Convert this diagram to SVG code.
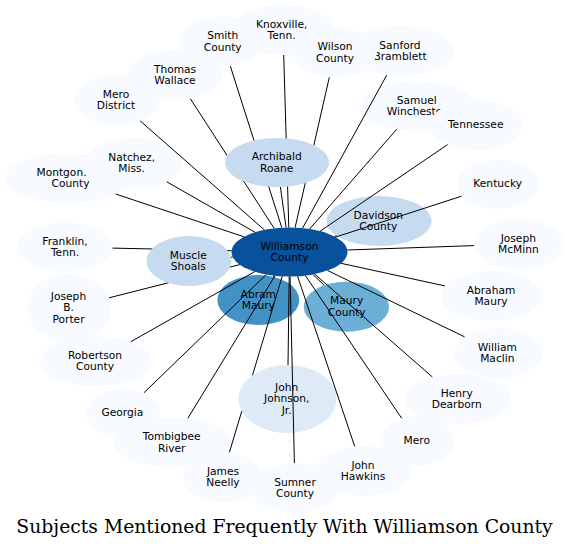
<svg xmlns="http://www.w3.org/2000/svg" width="569" height="549" viewBox="0 0 569 549">
<style>
.n text{font-family:"DejaVu Sans","Liberation Sans",sans-serif;font-size:10.67px;text-anchor:middle;fill:#000}
.b1{fill:#f7fbff}.b2{fill:#deebf7}.b3{fill:#c6dbef}.b5{fill:#6baed6}.b6{fill:#4292c6}.b8{fill:#08519c}
#edges line,#edges path{stroke:#000;stroke-width:1;fill:none}
.title{font-family:"DejaVu Serif","Liberation Serif",serif;font-size:18.8px;text-anchor:middle;fill:#000}
</style>
<rect width="569" height="549" fill="#fff"/>
<g id="knoxville" class="n"><ellipse class="b1" cx="283" cy="30" rx="50" ry="25"/><text x="281.7" y="27.5">Knoxville,</text><text x="281.7" y="39">Tenn.</text></g>
<g id="smith" class="n"><ellipse class="b1" cx="222.5" cy="41.5" rx="42.5" ry="25"/><text x="222.7" y="39">Smith</text><text x="222.7" y="50.5">County</text></g>
<g id="sanford" class="n"><ellipse class="b1" cx="400" cy="51" rx="54" ry="25"/><text x="400" y="48.5">Sanford</text><text x="400" y="60">Bramblett</text></g>
<g id="wilson" class="n"><ellipse class="b1" cx="335" cy="52.5" rx="42" ry="25"/><text x="335" y="50">Wilson</text><text x="335" y="61.5">County</text></g>
<g id="thomaswallace" class="n"><ellipse class="b1" cx="175" cy="75" rx="47" ry="25"/><text x="175" y="72.5">Thomas</text><text x="175" y="84">Wallace</text></g>
<g id="merodistrict" class="n"><ellipse class="b1" cx="116.5" cy="100" rx="42.5" ry="25"/><text x="116" y="97.5">Mero</text><text x="116" y="109">District</text></g>
<g id="winchester" class="n"><ellipse class="b1" cx="417" cy="106" rx="58" ry="25"/><text x="416.7" y="103.5">Samuel</text><text x="416.7" y="115">Winchester</text></g>
<g id="tennessee" class="n"><ellipse class="b1" cx="476.5" cy="125" rx="46.5" ry="25"/><text x="475.7" y="128">Tennessee</text></g>
<g id="montgomery" class="n"><ellipse class="b1" cx="68" cy="178" rx="62" ry="25"/><text x="61.5" y="175.5">Montgon.</text><text x="70.5" y="187">County</text></g>
<g id="natchez" class="n"><ellipse class="b1" cx="134" cy="163" rx="49" ry="25"/><text x="131.7" y="160.5">Natchez,</text><text x="131.7" y="172">Miss.</text></g>
<g id="kentucky" class="n"><ellipse class="b1" cx="497.5" cy="184.5" rx="41" ry="24.5"/><text x="497.7" y="187">Kentucky</text></g>
<g id="franklin" class="n"><ellipse class="b1" cx="65" cy="247" rx="47.5" ry="24.5"/><text x="65" y="244.5">Franklin,</text><text x="65" y="256">Tenn.</text></g>
<g id="mcminn" class="n"><ellipse class="b1" cx="519" cy="244" rx="45" ry="25"/><text x="518.3" y="241.5">Joseph</text><text x="518.3" y="253">McMinn</text></g>
<g id="abrahammaury" class="n"><ellipse class="b1" cx="491" cy="296" rx="50.5" ry="25"/><text x="491" y="293.5">Abraham</text><text x="491" y="305">Maury</text></g>
<g id="porter" class="n"><ellipse class="b1" cx="69" cy="308" rx="42" ry="34"/><text x="68.5" y="299.5">Joseph</text><text x="68.5" y="311">B.</text><text x="68.5" y="322.5">Porter</text></g>
<g id="maclin" class="n"><ellipse class="b1" cx="498" cy="353" rx="44" ry="25"/><text x="497.3" y="350.5">William</text><text x="497.3" y="362">Maclin</text></g>
<g id="robertson" class="n"><ellipse class="b1" cx="96" cy="361.4" rx="56.5" ry="25"/><text x="95" y="358.9">Robertson</text><text x="95" y="370.4">County</text></g>
<g id="dearborn" class="n"><ellipse class="b1" cx="457.5" cy="399" rx="52.5" ry="25"/><text x="456.7" y="396.5">Henry</text><text x="456.7" y="408">Dearborn</text></g>
<g id="georgia" class="n"><ellipse class="b1" cx="123" cy="413" rx="37" ry="24.5"/><text x="122.3" y="416">Georgia</text></g>
<g id="mero" class="n"><ellipse class="b1" cx="417" cy="441" rx="37" ry="25"/><text x="416.7" y="444">Mero</text></g>
<g id="tombigbee" class="n"><ellipse class="b1" cx="173" cy="442.5" rx="59" ry="25"/><text x="171.7" y="440">Tombigbee</text><text x="171.7" y="451.5">River</text></g>
<g id="neelly" class="n"><ellipse class="b1" cx="222" cy="477" rx="39" ry="25"/><text x="223" y="474.5">James</text><text x="223" y="486">Neelly</text></g>
<g id="hawkins" class="n"><ellipse class="b1" cx="363" cy="471" rx="48" ry="25"/><text x="363" y="468.5">John</text><text x="363" y="480">Hawkins</text></g>
<g id="sumner" class="n"><ellipse class="b1" cx="295" cy="488" rx="45" ry="25"/><text x="295" y="485.5">Sumner</text><text x="295" y="497">County</text></g>
<g id="davidson" class="n"><ellipse class="b3" cx="379" cy="221" rx="52.5" ry="25"/><text x="378.3" y="218.5">Davidson</text><text x="378.3" y="230">County</text></g>
<g id="abram" class="n"><ellipse class="b6" cx="258.3" cy="300" rx="41" ry="25"/><text x="258.3" y="297.5">Abram</text><text x="258.3" y="309">Maury</text></g>
<g id="maurycounty" class="n"><ellipse class="b5" cx="346.4" cy="306.7" rx="42.7" ry="25"/><text x="346.7" y="304.2">Maury</text><text x="346.7" y="315.7">County</text></g>
<g id="jj" class="n"><ellipse class="b2" cx="287.5" cy="399" rx="49" ry="34"/><text x="286.7" y="390.5">John</text><text x="286.7" y="402">Johnson,</text><text x="286.7" y="413.5">Jr.</text></g>
<g id="williamson" class="n"><ellipse class="b8" cx="289.5" cy="252" rx="58" ry="24.5"/><text x="289.5" y="249.5">Williamson</text><text x="289.5" y="261">County</text></g>
<g id="edges">
<line x1="288.8" y1="227.5" x2="283.7" y2="55"/>
<line x1="281.8" y1="227.7" x2="230.3" y2="66.1"/>
<line x1="295.1" y1="227.6" x2="329.3" y2="77.3"/>
<line x1="302.6" y1="228.1" x2="386.7" y2="75.2"/>
<line x1="309.6" y1="229" x2="396.6" y2="129.4"/>
<line x1="320.1" y1="231.2" x2="447.6" y2="144.6"/>
<line x1="335.5" y1="237.1" x2="461.5" y2="196.2"/>
<line x1="334.4" y1="236.5" x2="336.5" y2="235.7"/>
<line x1="347.3" y1="250" x2="474.1" y2="245.6"/>
<line x1="341" y1="263.3" x2="444.8" y2="285.9"/>
<line x1="327.6" y1="270.5" x2="464.5" y2="336.8"/>
<line x1="314.7" y1="274.1" x2="432.4" y2="377"/>
<line x1="305.4" y1="275.6" x2="401.7" y2="418.3"/>
<line x1="297.6" y1="276.3" x2="354.7" y2="446.4"/>
<line x1="290.1" y1="276.5" x2="294.4" y2="463"/>
<line x1="289.2" y1="276.5" x2="288" y2="365"/>
<path d="M282.2,276.3 L252.5,375.2 M241.8,411.1 L229.4,452.4"/>
<line x1="275" y1="275.7" x2="187.8" y2="418.3"/>
<line x1="266.3" y1="274.5" x2="143.9" y2="392.8"/>
<line x1="254.8" y1="271.6" x2="130.8" y2="341.7"/>
<line x1="239.8" y1="264.6" x2="109.1" y2="297.8"/>
<line x1="231.6" y1="250.7" x2="112.5" y2="248.1"/>
<line x1="232.8" y1="257.1" x2="231" y2="257.2"/>
<line x1="244" y1="236.8" x2="115.7" y2="194"/>
<line x1="255.1" y1="232.3" x2="166.6" y2="181.7"/>
<line x1="264.4" y1="229.9" x2="140.1" y2="120.8"/>
<line x1="274.2" y1="228.4" x2="190.3" y2="98.6"/>
<line x1="286.1" y1="227.5" x2="280.4" y2="187"/>
<line x1="274.1" y1="275.6" x2="273.4" y2="276.8"/>
<line x1="312.8" y1="274.4" x2="324.2" y2="285.3"/>
</g>
<g id="archibald" class="n"><ellipse class="b3" cx="277" cy="162.5" rx="52" ry="24.5"/><text x="276.7" y="160">Archibald</text><text x="276.7" y="171.5">Roane</text></g>
<g id="muscle" class="n"><ellipse class="b3" cx="189" cy="261" rx="42.5" ry="25"/><text x="188.3" y="258.5">Muscle</text><text x="188.3" y="270">Shoals</text></g>
<text class="title" x="284.5" y="533">Subjects Mentioned Frequently With Williamson County</text>
</svg>
